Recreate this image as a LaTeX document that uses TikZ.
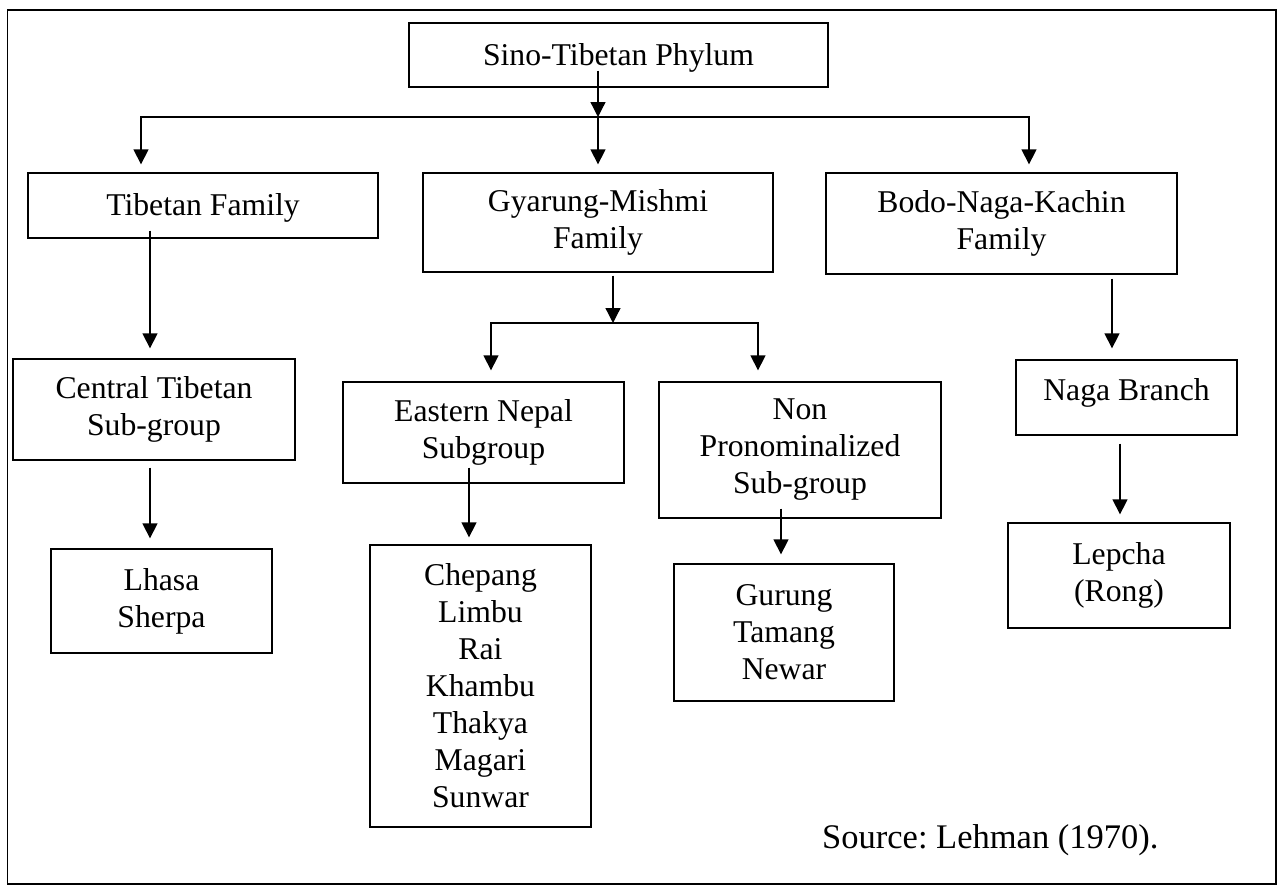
\documentclass[tikz,border=0pt]{standalone}
\usepackage{fontspec}
\setmainfont{Liberation Serif}
\usetikzlibrary{arrows.meta}
\frenchspacing
\begin{document}
\begin{tikzpicture}[x=1pt,y=-1pt,
  box/.style={draw, line width=1.3pt, rectangle, inner sep=0pt, align=center, font=\fontsize{31.7}{37}\selectfont},
  conn/.style={line width=1.3pt},
  arr/.style={conn, -{Triangle[width=15pt,length=15pt]}}]
\useasboundingbox (0,0) rectangle (1283,886);
\draw[line width=1.3pt] (7.5,10) rectangle (1276,884);

\node[box, minimum width=419pt, minimum height=64pt, text height=22pt, text depth=2pt] (phy) at (618.5,55) {Sino-Tibetan Phylum};
\node[box, minimum width=350pt, minimum height=65pt, text height=22pt, text depth=2pt] (tib) at (203,205.5) {Tibetan Family};
\node[box, minimum width=350pt, minimum height=99pt] (gya) at (598,222.5) {Gyarung-Mishmi\\Family};
\node[box, minimum width=351pt, minimum height=101pt] (bodo) at (1001.5,223.5) {Bodo-Naga-Kachin\\Family};
\node[box, minimum width=282pt, minimum height=101pt] (cen) at (154,409.5) {Central Tibetan\\Sub-group};
\node[box, minimum width=281pt, minimum height=101pt] (eas) at (483.5,432.5) {Eastern Nepal\\Subgroup};
\node[box, minimum width=282pt, minimum height=136pt] (non) at (800,450) {Non\\Pronominalized\\Sub-group};
\node[box, minimum width=221pt, minimum height=75pt, text height=22pt, text depth=17pt] (naga) at (1126.5,397.5) {Naga Branch};
\node[box, minimum width=221pt, minimum height=104pt] (lha) at (161.5,601) {Lhasa\\Sherpa};
\node[box, minimum width=221pt, minimum height=282pt] (che) at (480.5,686) {Chepang\\Limbu\\Rai\\Khambu\\Thakya\\Magari\\Sunwar};
\node[box, minimum width=220pt, minimum height=137pt] (gur) at (784,632.5) {Gurung\\Tamang\\Newar};
\node[box, minimum width=222pt, minimum height=105pt] (lep) at (1119,575.5) {Lepcha\\(Rong)};
\node[anchor=base west, inner sep=0pt, font=\fontsize{34.5}{40}\selectfont] (src) at (822,848) {Source: Lehman (1970).};

% level 1 bus
\coordinate (j0) at (598,117);
\coordinate (jl) at (141,117);
\coordinate (jr) at (1029,117);
\draw[arr] ([yshift=17pt]phy.south -| j0) -- (j0);
\draw[arr, shorten >=8pt] (j0) -| (tib.north -| jl);
\draw[arr, shorten >=8pt] (j0) -| (bodo.north -| jr);
\draw[arr, shorten >=8pt] (j0) -- (gya.north -| j0);

% Tibetan branch
\coordinate (xt) at (150,0);
\draw[arr, shorten >=10pt] ([yshift=8pt]tib.south -| xt) -- (cen.north -| xt);
\draw[arr, shorten >=10pt] ([yshift=-7pt]cen.south -| xt) -- (lha.north -| xt);

% Gyarung branch
\coordinate (j1) at (613,323);
\coordinate (j1l) at (491,323);
\coordinate (j1r) at (758,323);
\draw[arr] ([yshift=-3pt]gya.south -| j1) -- (j1);
\draw[arr, shorten >=11pt] (j1) -| (eas.north -| j1l);
\draw[arr, shorten >=11pt] (j1) -| (non.north -| j1r);
\coordinate (xe) at (469,0);
\draw[arr, shorten >=7pt] ([yshift=16pt]eas.south -| xe) -- (che.north -| xe);
\coordinate (xn) at (781,0);
\draw[arr, shorten >=9pt] ([yshift=10pt]non.south -| xn) -- (gur.north -| xn);

% Bodo branch
\coordinate (xb) at (1112,0);
\draw[arr, shorten >=11pt] ([yshift=-4pt]bodo.south -| xb) -- (naga.north -| xb);
\coordinate (xg) at (1120,0);
\draw[arr, shorten >=8pt] ([yshift=-8pt]naga.south -| xg) -- (lep.north -| xg);
\end{tikzpicture}
\end{document}
